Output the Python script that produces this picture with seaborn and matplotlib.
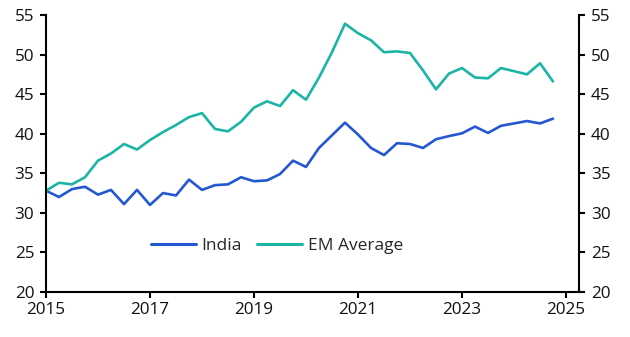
import numpy as np
import pandas as pd
import matplotlib
matplotlib.use("Agg")
import matplotlib.pyplot as plt
import seaborn as sns

# Quarterly data, 2015 Q1 to 2024 Q4
quarters = [2015 + 0.25 * i for i in range(40)]
india = [32.8, 32.0, 33.0, 33.3, 32.3, 32.9, 31.1, 32.9, 31.0, 32.5,
         32.2, 34.2, 32.9, 33.5, 33.6, 34.5, 34.0, 34.1, 34.9, 36.6,
         35.8, 38.2, 39.8, 41.4, 39.9, 38.2, 37.3, 38.8, 38.7, 38.2,
         39.3, 39.7, 40.05, 40.9, 40.1, 41.0, 41.3, 41.6, 41.3, 41.9]
em_avg = [32.8, 33.8, 33.6, 34.5, 36.6, 37.5, 38.7, 38.0, 39.2, 40.2,
          41.1, 42.1, 42.6, 40.6, 40.3, 41.5, 43.3, 44.1, 43.5, 45.5,
          44.3, 47.1, 50.3, 53.9, 52.7, 51.8, 50.3, 50.4, 50.2, 48.0,
          45.6, 47.6, 48.3, 47.1, 47.0, 48.3, 47.9, 47.5, 48.9, 46.6]
series_names = ["India", "EM Average"]
colors = ["#2457D2", "#1BB5A5"]
x_ticks = [2015, 2017, 2019, 2021, 2023, 2025]
y_ticks = [20, 25, 30, 35, 40, 45, 50, 55]

df = pd.DataFrame({"date": quarters * 2,
                   "value": india + em_avg,
                   "series": [series_names[0]] * 40 + [series_names[1]] * 40})

sns.set_style("white")
plt.rcParams["font.family"] = ["Open Sans", "DejaVu Sans"]

fig = plt.figure(figsize=(6.3, 3.37), dpi=100)
ax = fig.add_axes([46 / 630, 45 / 337, 533 / 630, 277 / 337])

sns.lineplot(data=df, x="date", y="value", hue="series", palette=colors,
             linewidth=1.9, ax=ax, legend=True)

ax.set_xlim(2015, 2025.25)
ax.set_ylim(20, 55)
ax.set_xticks(x_ticks)
ax.set_yticks(y_ticks)
ax.set_xlabel("")
ax.set_ylabel("")

ax.spines["top"].set_visible(False)
for side in ["left", "right", "bottom"]:
    ax.spines[side].set_visible(True)
    ax.spines[side].set_color("black")
    ax.spines[side].set_linewidth(1.5)

ax.tick_params(axis="both", which="both", direction="out", length=4.5,
               width=1.5, color="black", labelsize=12.3, labelcolor="#111111")
ax.tick_params(axis="y", left=True, right=True, labelleft=True, labelright=True, pad=4)
ax.tick_params(axis="x", bottom=True, pad=3)

leg = ax.legend(loc="center", bbox_to_anchor=(0.433, 0.167), ncol=2, frameon=False,
                fontsize=12.5, handlelength=2.6, handletextpad=0.3, columnspacing=0.9)
for line in leg.get_lines():
    line.set_linewidth(2.2)

fig.savefig("out.png", dpi=100)
